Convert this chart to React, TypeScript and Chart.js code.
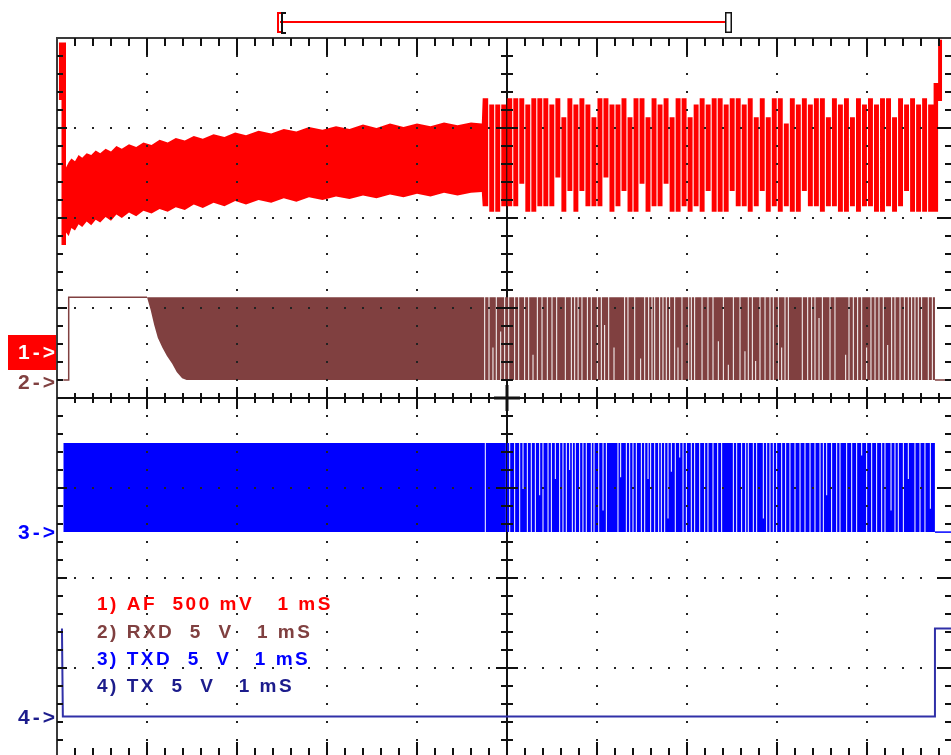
import React, { useEffect, useRef } from "react";
import { Chart, registerables } from "chart.js";

Chart.register(...registerables);

// ---------- axes: 1 ms / div on 10 divisions, 8 vertical divisions ----------
const timeRange = [0, 10];
const divRange = [-4, 4];

// ---------- Channel 1: AF (red) ----------
const afHeadT = [0.02, 0.05, 0.1];
const afHeadTop = [3.95, 3.95];
const afHeadBot = [3.31, 1.7];

const afEnvT = [
  0.1, 0.13, 0.16, 0.2, 0.24, 0.28, 0.33, 0.38, 0.43, 0.48,
  0.54, 0.6, 0.66, 0.72, 0.8, 0.88, 0.96, 1.05, 1.14, 1.23,
  1.32, 1.42, 1.52, 1.62, 1.74, 1.86, 1.98, 2.1, 2.24, 2.38,
  2.52, 2.66, 2.8, 2.95, 3.1, 3.25, 3.4, 3.55, 3.7, 3.85,
  4.0, 4.15, 4.3, 4.45, 4.6, 4.72,
];
const afEnvTop = [
  2.56, 2.62, 2.66, 2.63, 2.7, 2.67, 2.72, 2.7, 2.75, 2.72,
  2.77, 2.74, 2.8, 2.77, 2.82, 2.79, 2.84, 2.81, 2.87, 2.84,
  2.89, 2.86, 2.91, 2.88, 2.93, 2.9, 2.95, 2.92, 2.97, 2.94,
  2.99, 2.96, 3.01, 2.98, 3.02, 2.99, 3.04, 3.0, 3.05, 3.01,
  3.05, 3.02, 3.06, 3.03, 3.06, 3.05,
];
const afEnvBot = [
  1.84, 1.8, 1.89, 1.86, 1.93, 1.9, 1.96, 1.92, 1.98, 1.95,
  2.01, 1.97, 2.04, 2.0, 2.06, 2.02, 2.08, 2.05, 2.1, 2.07,
  2.12, 2.09, 2.15, 2.11, 2.17, 2.13, 2.19, 2.15, 2.2, 2.17,
  2.22, 2.18, 2.23, 2.2, 2.24, 2.21, 2.25, 2.22, 2.26, 2.23,
  2.27, 2.24, 2.28, 2.25, 2.28, 2.29,
];

const afBurstStart = 4.73;
const afBurstStep = 0.0668;
const afBurstTop = [
  3.33, 3.26, 3.26, 3.26, 3.33, 3.33, 3.33, 3.26, 3.33, 3.33,
  3.33, 3.26, 3.33, 3.12, 3.33, 3.26, 3.33, 3.26, 3.12, 3.33,
  3.33, 3.26, 3.26, 3.33, 3.12, 3.33, 3.33, 3.12, 3.33, 3.26,
  3.33, 3.12, 3.33, 3.33, 3.12, 3.26, 3.33, 3.26, 3.33, 3.33,
  3.26, 3.33, 3.33, 3.26, 3.33, 3.12, 3.33, 3.12, 3.33, 3.33,
  3.05, 3.33, 3.26, 3.33, 3.26, 3.33, 3.33, 3.12, 3.33, 3.26,
  3.33, 3.12, 3.33, 3.26, 3.33, 3.26, 3.33, 3.33, 3.12, 3.33,
  3.26, 3.33, 3.26, 3.33, 3.26,
];
const afBurstBot = [
  2.13, 2.07, 2.07, 2.13, 2.13, 2.13, 2.38, 2.07, 2.07, 2.13,
  2.13, 2.13, 2.45, 2.07, 2.3, 2.07, 2.3, 2.13, 2.13, 2.13,
  2.45, 2.07, 2.13, 2.3, 2.07, 2.07, 2.38, 2.07, 2.13, 2.13,
  2.38, 2.07, 2.07, 2.13, 2.07, 2.13, 2.07, 2.3, 2.07, 2.07,
  2.07, 2.3, 2.13, 2.13, 2.07, 2.13, 2.3, 2.07, 2.13, 2.07,
  2.13, 2.07, 2.07, 2.3, 2.13, 2.13, 2.07, 2.13, 2.13, 2.07,
  2.07, 2.13, 2.07, 2.13, 2.13, 2.07, 2.07, 2.13, 2.07, 2.13,
  2.3, 2.07, 2.07, 2.07, 2.07,
];

const afTailT = [9.74, 9.79, 9.835];
const afTailTop = [3.5, 3.98];
const afTailBot = [2.07, 3.3];

// ---------- Channel 2: RXD (brown) ----------
const rxdLevels = [0.2, 1.12]; // low, high
const rxdHeadT = [0.07, 0.13, 1.0];
const rxdEnvT = [1.0, 1.04, 1.08, 1.12, 1.17, 1.22, 1.28, 1.33, 1.39, 1.44];
const rxdEnvBot = [1.12, 0.98, 0.81, 0.67, 0.56, 0.47, 0.38, 0.29, 0.22, 0.2];
const rxdGapT = [
  4.752, 4.8, 4.844, 4.881, 4.93, 4.974, 5.019, 5.085, 5.13, 5.196,
  5.241, 5.289, 5.337, 5.389, 5.448, 5.5, 5.552, 5.648, 5.715, 5.752,
  5.79, 5.833, 5.893, 5.937, 6.004, 6.048, 6.085, 6.13, 6.189, 6.307,
  6.344, 6.419, 6.485, 6.53, 6.574, 6.611, 6.641, 6.696, 6.733, 6.77,
  6.807, 6.863, 6.9, 6.944, 7.019, 7.048, 7.085, 7.167, 7.233, 7.289,
  7.348, 7.404, 7.459, 7.515, 7.589, 7.644, 7.681, 7.726, 7.763, 7.811,
  7.867, 7.922, 7.959, 8.015, 8.052, 8.089, 8.126, 8.281, 8.341, 8.385,
  8.422, 8.467, 8.504, 8.589, 8.644, 8.763, 8.8, 8.848, 8.896, 8.941,
  8.996, 9.044, 9.089, 9.133, 9.181, 9.23, 9.274, 9.311, 9.367, 9.415,
  9.459, 9.496, 9.533, 9.57, 9.607, 9.681, 9.726,
];
const rxdGapBot = [
  1.12, 1.12, 0.56, 1.12, 0.74, 1.12, 1.12, 1.12, 1.12, 1.12,
  1.12, 0.48, 1.12, 1.12, 1.12, 1.12, 1.12, 1.12, 1.12, 1.12,
  1.12, 1.12, 1.12, 1.12, 1.12, 1.12, 0.81, 1.12, 0.56, 1.12,
  1.12, 1.12, 0.44, 1.12, 1.12, 1.12, 1.12, 1.12, 1.12, 1.12,
  1.12, 1.12, 0.56, 1.12, 1.12, 1.12, 1.12, 1.12, 1.12, 1.12,
  0.63, 1.12, 0.37, 1.12, 1.12, 0.52, 1.12, 1.12, 0.41, 1.12,
  1.12, 1.12, 1.12, 1.12, 0.56, 1.12, 1.12, 1.12, 1.12, 1.12,
  1.12, 0.89, 1.12, 1.12, 1.12, 0.48, 1.12, 1.12, 1.12, 1.12,
  0.56, 1.12, 1.12, 1.12, 1.12, 0.59, 1.12, 1.12, 1.12, 1.12,
  1.12, 1.12, 1.12, 1.12, 1.12, 1.12, 1.12,
];
const rxdEndT = 9.755;

// ---------- Channel 3: TXD (blue) ----------
const txdLevels = [-1.49, -0.5]; // low, high
const txdStartT = 0.07;
const txdGapT = [
  4.759, 4.993, 5.03, 5.085, 5.141, 5.178, 5.226, 5.27, 5.315, 5.363,
  5.4, 5.456, 5.493, 5.537, 5.585, 5.622, 5.659, 5.696, 5.726, 5.759,
  5.807, 5.844, 5.881, 5.937, 5.967, 6.019, 6.067, 6.104, 6.233, 6.263,
  6.326, 6.363, 6.4, 6.437, 6.493, 6.53, 6.567, 6.596, 6.641, 6.685,
  6.715, 6.752, 6.789, 6.826, 6.87, 6.919, 6.956, 6.993, 7.048, 7.085,
  7.141, 7.196, 7.233, 7.289, 7.341, 7.385, 7.515, 7.552, 7.607, 7.652,
  7.681, 7.737, 7.774, 7.848, 7.885, 7.922, 7.959, 7.996, 8.052, 8.096,
  8.144, 8.2, 8.256, 8.311, 8.367, 8.422, 8.478, 8.515, 8.552, 8.607,
  8.663, 8.7, 8.774, 8.83, 8.885, 8.941, 8.996, 9.052, 9.107, 9.163,
  9.2, 9.267, 9.311, 9.348, 9.404, 9.459, 9.533, 9.589, 9.644, 9.704,
];
const txdGapTop = [
  -1.49, -1.49, -1.49, -1.49, -1.49, -1.01, -1.49, -1.49, -1.49, -1.08,
  -1.49, -1.49, -1.49, -0.9, -1.49, -1.49, -1.49, -0.8, -1.49, -1.49,
  -1.49, -1.49, -1.49, -1.49, -1.49, -1.49, -1.25, -1.49, -1.49, -0.88,
  -1.49, -1.49, -1.49, -1.49, -1.49, -1.49, -0.9, -1.49, -1.49, -1.49,
  -1.49, -1.49, -1.34, -0.82, -1.49, -0.66, -1.49, -1.49, -1.49, -1.49,
  -1.49, -1.49, -1.49, -1.49, -1.49, -1.49, -1.49, -1.49, -1.49, -1.49,
  -1.49, -1.49, -1.49, -1.34, -1.49, -1.49, -1.49, -1.49, -1.49, -1.49,
  -1.49, -1.49, -1.49, -1.49, -1.49, -1.49, -1.49, -1.49, -1.08, -1.49,
  -1.49, -1.49, -1.49, -1.49, -1.49, -0.64, -1.49, -1.49, -1.49, -1.49,
  -1.49, -1.25, -1.49, -1.49, -1.49, -0.9, -1.49, -1.49, -1.49, -1.23,
];
const txdEndT = 9.755;

// ---------- Channel 4: TX (dark blue) ----------
const txT = [0.055, 0.065, 9.755, 9.755, 10];
const txV = [-2.56, -3.54, -3.54, -2.56, -2.56];

// ---------- texts ----------
const legendLabels = ["1) AF  500 mV   1 mS", "2) RXD  5  V   1 mS", "3) TXD  5  V   1 mS", "4) TX  5  V   1 mS"];
const legendLevels = [-2.3, -2.61, -2.91, -3.21];
const legendTime = 0.44;
const markerLabels = ["1->", "2->", "3->", "4->"];
const markerLevels = [0.51, 0.18, -1.49, -3.54];
const cursorSpan = [2.478, 7.456];

const RED = "#ff0000";
const BROWN = "#804040";
const BLUE = "#0000ff";
const NAVY = "#3030a8";
const colors = [RED, BROWN, BLUE, "#1c1c8c"];
const markerColors = ["#ffffff", BROWN, BLUE, "#1c1c8c"];

type P = { x: number; y: number | null };
type Band = { top: P[]; bot: P[] };
const newBand = (): Band => ({ top: [], bot: [] });
const col = (b: Band, t0: number, t1: number, top: number, bot: number) => {
  b.top.push({ x: t0, y: top }, { x: t1, y: top });
  b.bot.push({ x: t0, y: bot }, { x: t1, y: bot });
};
const pt = (b: Band, t: number, top: number, bot: number) => {
  b.top.push({ x: t, y: top });
  b.bot.push({ x: t, y: bot });
};

const GAP_AF = 0.012;
const GAP_DIG = 0.011;

function buildAF(): Band {
  const b = newBand();
  for (let i = 0; i < afHeadTop.length; i++) col(b, afHeadT[i], afHeadT[i + 1], afHeadTop[i], afHeadBot[i]);
  afEnvT.forEach((t, i) => pt(b, t, afEnvTop[i], afEnvBot[i]));
  const n = afBurstTop.length;
  for (let k = 0; k < n; k++) {
    const t0 = afBurstStart + k * afBurstStep;
    const t1 = t0 + afBurstStep;
    const s = k === 0 ? t0 : t0 + GAP_AF / 2;
    const e = k === n - 1 ? t1 : t1 - GAP_AF / 2;
    col(b, s, e, afBurstTop[k], afBurstBot[k]);
    if (k < n - 1) {
      const lvl = afBurstTop[k] > 3.3 ? afBurstTop[k] : afBurstBot[k];
      col(b, e, e + GAP_AF, lvl, lvl);
    }
  }
  for (let i = 0; i < afTailTop.length; i++) col(b, afTailT[i], afTailT[i + 1], afTailTop[i], afTailBot[i]);
  return b;
}

function buildRXD(): Band {
  const b = newBand();
  const [lo, hi] = rxdLevels;
  rxdEnvT.forEach((t, i) => pt(b, t, hi, rxdEnvBot[i]));
  let prev = rxdEnvT[rxdEnvT.length - 1];
  rxdGapT.forEach((t, i) => {
    col(b, prev, t - GAP_DIG / 2, hi, lo);
    col(b, t - GAP_DIG / 2, t + GAP_DIG / 2, hi, rxdGapBot[i]);
    prev = t + GAP_DIG / 2;
  });
  col(b, prev, rxdEndT, hi, lo);
  return b;
}

function buildTXD(): Band {
  const b = newBand();
  const [lo, hi] = txdLevels;
  let prev = txdStartT;
  txdGapT.forEach((t, i) => {
    col(b, prev, t - GAP_DIG / 2, hi, lo);
    col(b, t - GAP_DIG / 2, t + GAP_DIG / 2, txdGapTop[i], lo);
    prev = t + GAP_DIG / 2;
  });
  col(b, prev, txdEndT, hi, lo);
  return b;
}

// idle (non-toggling) parts of the digital traces, drawn as plain lines
function rxdIdle(): P[] {
  const [lo, hi] = rxdLevels;
  return [
    { x: rxdHeadT[0], y: lo }, { x: rxdHeadT[1], y: lo }, { x: rxdHeadT[1], y: hi }, { x: rxdHeadT[2], y: hi },
    { x: (rxdHeadT[2] + rxdEndT) / 2, y: null },
    { x: rxdEndT, y: lo }, { x: timeRange[1], y: lo },
  ];
}
function txdIdle(): P[] {
  const [lo] = txdLevels;
  return [{ x: txdEndT, y: lo }, { x: timeRange[1], y: lo }];
}

const scopePlugin = {
  id: "scope",
  beforeDatasetsDraw(chart: any) {
    const { ctx, chartArea: a, scales } = chart;
    const cx = scales.x.getPixelForValue(5);
    ctx.save();
    ctx.strokeStyle = "#111";
    ctx.lineWidth = 2;
    ctx.beginPath();
    ctx.moveTo(cx, a.top);
    ctx.lineTo(cx, a.bottom);
    ctx.stroke();
    ctx.restore();
  },
  afterDatasetsDraw(chart: any) {
    const { ctx, chartArea: a, scales } = chart;
    const xs = scales.x;
    const ys = scales.y;
    const X = (v: number) => Math.round(xs.getPixelForValue(v));
    const Y = (v: number) => Math.round(ys.getPixelForValue(v));
    const line = (x0: number, y0: number, x1: number, y1: number) => {
      ctx.beginPath();
      ctx.moveTo(x0, y0);
      ctx.lineTo(x1, y1);
      ctx.stroke();
    };
    ctx.save();
    // dotted graticule
    ctx.fillStyle = "#222";
    for (let i = 1; i < 10; i++) {
      if (i === 5) continue;
      const px = X(i);
      for (let j = 0; j <= 40; j++) ctx.fillRect(px - 1, Y(-4 + j * 0.2) - 1, 2, 2);
    }
    for (let j = -3; j <= 3; j++) {
      if (j === 0) continue;
      const py = Y(j);
      for (let i = 0; i <= 50; i++) ctx.fillRect(X(i * 0.2) - 1, py - 1, 2, 2);
    }
    // borders
    ctx.strokeStyle = "#3a3a3a";
    ctx.lineWidth = 2;
    line(a.left - 1, a.top, a.right + 1, a.top);
    line(a.left, a.top, a.left, a.bottom);
    line(a.right, a.top, a.right, a.bottom);
    line(a.left, a.bottom, a.right, a.bottom);
    // ticks
    ctx.strokeStyle = "#111";
    const cx = X(5);
    const cy = Y(0);
    line(a.left, cy, a.right, cy);
    for (let i = 1; i < 50; i++) {
      const px = X(i * 0.2);
      const major = i % 5 === 0;
      line(px, a.top, px, a.top + (major ? 17 : 8));
      line(px, a.bottom, px, a.bottom - (major ? 16 : 10));
      const h = major ? 11 : 5;
      line(px, cy - h, px, cy + h);
    }
    for (let j = 1; j < 40; j++) {
      const py = Y(-4 + j * 0.2);
      const major = j % 5 === 0;
      line(a.left, py, a.left + (major ? 10 : 6), py);
      line(a.right, py, a.right - (major ? 20 : 12), py);
      const h = major ? 11 : 6;
      line(cx - h, py, cx + h, py);
    }
    ctx.lineWidth = 3;
    line(cx - 13, cy, cx + 13, cy);
    line(cx, cy - 13, cx, cy + 13);

    // legend texts
    ctx.textBaseline = "middle";
    ctx.textAlign = "left";
    ctx.font = 'bold 19px "Liberation Sans", Arial, sans-serif';
    (ctx as any).letterSpacing = "2.5px";
    legendLabels.forEach((s, i) => {
      ctx.fillStyle = colors[i];
      ctx.fillText(s, X(legendTime), Y(legendLevels[i]));
    });

    // channel markers
    ctx.font = 'bold 21px "Liberation Sans", Arial, sans-serif';
    (ctx as any).letterSpacing = "3px";
    ctx.textAlign = "right";
    markerLabels.forEach((s, i) => {
      const my = Y(markerLevels[i]);
      if (i === 0) {
        ctx.fillStyle = RED;
        ctx.fillRect(8, my - 17, a.left - 9, 35);
      }
      ctx.fillStyle = markerColors[i];
      ctx.fillText(s, a.left + 1, my + 1);
    });
    (ctx as any).letterSpacing = "0px";

    // time cursor bar
    const x0 = X(cursorSpan[0]);
    const x1 = X(cursorSpan[1]);
    const by = a.top - 16;
    ctx.strokeStyle = RED;
    ctx.lineWidth = 2;
    line(x0, by, x1, by);
    line(x0 - 2, by - 9, x0 - 2, by + 11);
    line(x0 - 3, by - 9, x0 + 1, by - 9);
    line(x0 - 3, by + 10, x0 + 1, by + 10);
    ctx.strokeStyle = "#111";
    line(x0 + 2, by - 9, x0 + 2, by + 12);
    line(x0 + 1, by - 9, x0 + 6, by - 9);
    line(x0 + 1, by + 11, x0 + 6, by + 11);
    ctx.lineWidth = 1.5;
    ctx.fillStyle = "#fff";
    ctx.fillRect(x1 - 2, by - 9, 5, 19);
    ctx.strokeRect(x1 - 2.25, by - 9.25, 5.5, 19.5);
    ctx.restore();
  },
};

export default function App() {
  const ref = useRef<HTMLCanvasElement>(null);
  useEffect(() => {
    const canvas = ref.current;
    if (!canvas) return;
    const af = buildAF();
    const rxd = buildRXD();
    const txd = buildTXD();
    const tx = txT.map((t, i) => ({ x: t, y: txV[i] }));
    // a (never stroked) dash pattern keeps Chart.js on its exact path builder instead of the pixel-merging fast path
    const bandSets = (b: Band, c: string) => [
      { data: b.bot, borderColor: c, backgroundColor: c, borderWidth: 0, borderDash: [4, 0], pointRadius: 0, fill: false },
      { data: b.top, borderColor: c, backgroundColor: c, borderWidth: 0, borderDash: [4, 0], pointRadius: 0, fill: "-1" },
    ];
    const chart = new Chart(canvas, {
      type: "line",
      data: {
        datasets: [
          ...bandSets(af, RED),
          ...bandSets(rxd, BROWN),
          ...bandSets(txd, BLUE),
          { data: rxdIdle(), borderColor: BROWN, borderWidth: 1.5, pointRadius: 0, fill: false, spanGaps: false },
          { data: txdIdle(), borderColor: BLUE, borderWidth: 1.5, pointRadius: 0, fill: false },
          { data: tx, borderColor: NAVY, backgroundColor: NAVY, borderWidth: 2, pointRadius: 0, fill: false },
        ] as any,
      },
      options: {
        responsive: false,
        animation: false,
        devicePixelRatio: 1,
        events: [],
        layout: { padding: { left: 57, top: 38, right: 13, bottom: 22 } },
        elements: { line: { tension: 0 }, point: { radius: 0 } },
        scales: {
          x: { type: "linear", min: timeRange[0], max: timeRange[1], display: false },
          y: { type: "linear", min: divRange[0], max: divRange[1], display: false },
        },
        plugins: { legend: { display: false }, tooltip: { enabled: false } },
      } as any,
      plugins: [scopePlugin],
    });
    return () => chart.destroy();
  }, []);
  return (
    <div style={{ position: "fixed", left: 0, top: 0, width: 951, height: 755, overflow: "hidden", background: "#fff" }}>
      <canvas ref={ref} width={970} height={780} style={{ display: "block" }} />
    </div>
  );
}
